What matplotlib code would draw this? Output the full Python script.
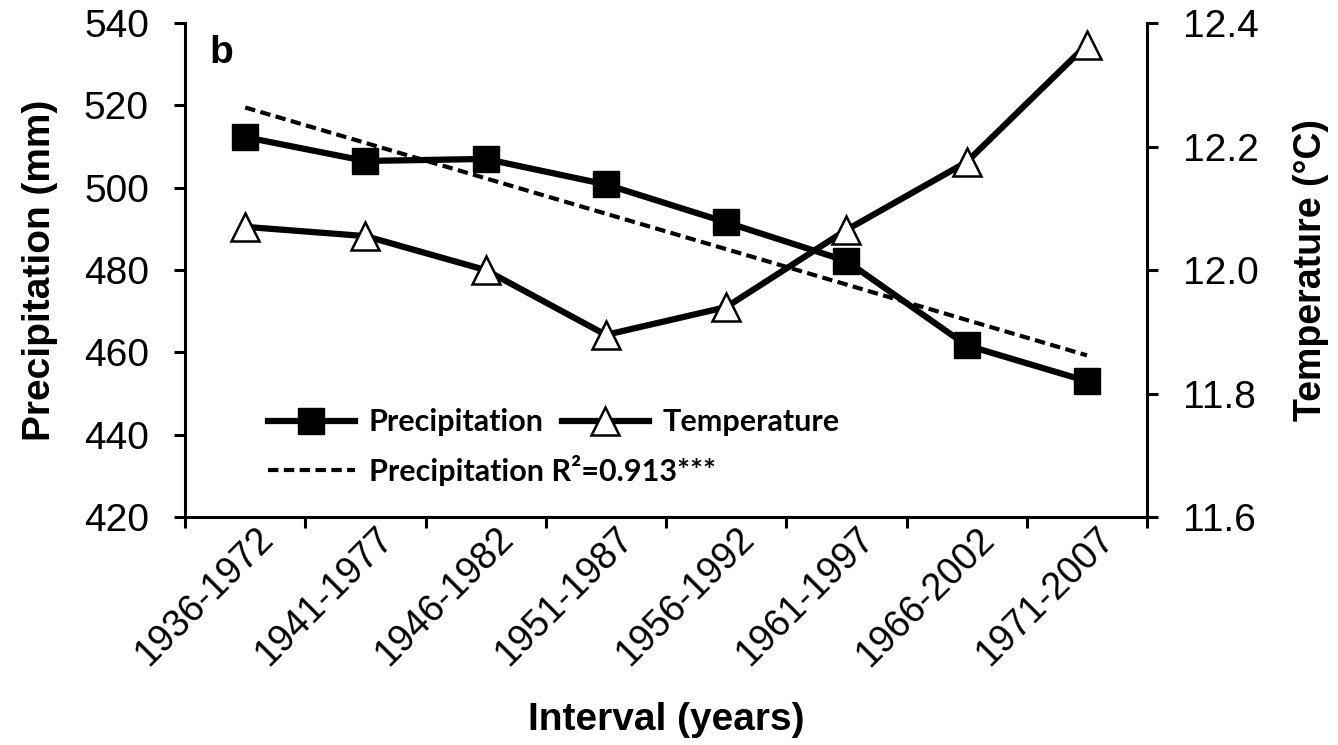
import numpy as np
import matplotlib.pyplot as plt
import matplotlib.transforms as mtransforms
from matplotlib.lines import Line2D

# 37-year moving windows
intervals = ['1936-1972', '1941-1977', '1946-1982', '1951-1987',
             '1956-1992', '1961-1997', '1966-2002', '1971-2007']
precipitation = [512.3, 506.5, 507.0, 500.8, 491.6, 482.2, 461.7, 453.0]   # mm
temperature = [12.07, 12.055, 12.0, 11.895, 11.94, 12.065, 12.175, 12.365]  # deg C
r2_text = 'Precipitation R\u00b2=0.913***'

prec_ticks = [420, 440, 460, 480, 500, 520, 540]
temp_ticks = [11.6, 11.8, 12.0, 12.2, 12.4]

plt.rcParams['font.family'] = 'Liberation Sans'
plt.rcParams['axes.linewidth'] = 2.2

fig = plt.figure(figsize=(13.38, 7.45), dpi=100)
ax = fig.add_axes([0.1383, 0.306, 0.719, 0.663])
ax2 = ax.twinx()

x = np.arange(1, len(intervals) + 1)

# linear trend of precipitation
slope, intercept = np.polyfit(x, precipitation, 1)
trend = slope * x + intercept

ax.plot(x, trend, color='black', lw=3, dashes=(2.5, 1.3), zorder=2)
ax.plot(x, precipitation, color='black', lw=4.5, marker='s', ms=19,
        mfc='black', mec='black', zorder=3)
ax2.plot(x, temperature, color='black', lw=4.5, marker='^', ms=20,
         mfc='white', mec='black', mew=1.8, zorder=3)

ax.set_xlim(0.5, len(intervals) + 0.5)
ax.set_ylim(420, 540)
ax2.set_ylim(11.6, 12.4)

ax.set_yticks(prec_ticks)
ax2.set_yticks(temp_ticks)
ax2.set_yticklabels([f'{t:.1f}' for t in temp_ticks])

# category ticks between intervals, labels centred on each interval
ax.set_xticks(np.arange(0.5, len(intervals) + 1, 1.0))
ax.set_xticklabels([])
ax.set_xticks(x, minor=True)
ax.set_xticklabels(intervals, minor=True, rotation=45, ha='right',
                   rotation_mode='anchor', va='center', fontsize=27)
ax.tick_params(axis='x', which='minor', length=0, pad=12)
offset = mtransforms.ScaledTranslation(0.22, 0, fig.dpi_scale_trans)
for lbl in ax.get_xticklabels(minor=True):
    lbl.set_transform(lbl.get_transform() + offset)

for a in (ax, ax2):
    a.spines['top'].set_visible(False)
    a.tick_params(axis='both', which='major', direction='out', length=8,
                  width=2.2, labelsize=28, pad=18)
ax2.spines['left'].set_visible(False)
ax2.spines['bottom'].set_visible(False)
ax.spines['right'].set_visible(False)

ax.set_ylabel('Precipitation (mm)', fontsize=28, fontweight='bold')
ax.yaxis.set_label_coords(-0.132, 0.5)
ax2.set_ylabel('Temperature (\u00b0C)', fontsize=27, fontweight='bold')
ax2.yaxis.set_label_coords(1.152, 0.5)
ax.set_xlabel('Interval (years)', fontsize=28, fontweight='bold')
ax.xaxis.set_label_coords(0.5, -0.374)

ax.text(0.025, 0.975, 'b', transform=ax.transAxes, fontsize=28,
        fontweight='bold', va='top', ha='left')

# legends
leg_font = {'family': 'Lato', 'weight': 'bold', 'size': 22}
h_prec = Line2D([], [], color='black', lw=4.5, marker='s', ms=19)
h_temp = Line2D([], [], color='black', lw=4.5, marker='^', ms=20,
                mfc='white', mec='black', mew=1.8)
h_trend = Line2D([], [], color='black', lw=3, dashes=(2.5, 1.3))

leg1 = ax2.legend([h_prec, h_temp], ['Precipitation', 'Temperature'], ncol=2,
                  loc='center left', bbox_to_anchor=(0.086, 0.192),
                  frameon=False, prop=leg_font, borderpad=0, borderaxespad=0,
                  handlelength=2.85, handletextpad=0.45, columnspacing=0.6,
                  numpoints=1)
ax2.add_artist(leg1)
ax2.legend([h_trend], [r2_text], loc='center left',
           bbox_to_anchor=(0.086, 0.095), frameon=False, prop=leg_font,
           borderpad=0, borderaxespad=0, handlelength=2.85, handletextpad=0.45)

fig.savefig('out.png', dpi=100)
